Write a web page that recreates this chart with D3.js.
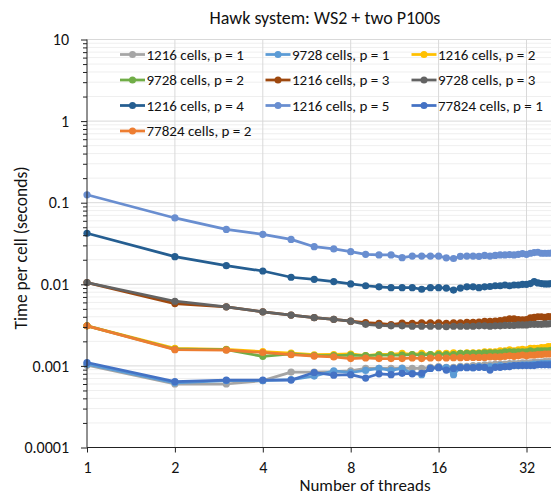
<!DOCTYPE html>
<html>
<head>
<meta charset="utf-8">
<script src="https://cdn.jsdelivr.net/npm/d3@7"></script>
<style>
  body { margin: 0; background: #fff; }
  text { font-family: Carlito, Lato, "Liberation Sans", sans-serif; fill: #111; }
</style>
</head>
<body>
<svg id="chart" width="551" height="496"></svg>
<script>
// Data: time per cell (s) against number of threads
var threads = [1, 2, 3, 4, 5, 6, 7, 8, 9, 10, 11, 12, 13, 14, 15, 16, 17, 18, 19, 20,
  21, 22, 23, 24, 25, 26, 27, 28, 29, 30, 31, 32, 33, 34, 35, 36, 37, 38, 39, 40];

var cells1216_p1 = [0.00102, 0.0006, 0.0006, 0.00066, 0.00084, 0.00084, 0.00085, 0.00087, 0.00093, 0.00093,
  0.00093, 0.00094, 0.00093, 0.00093, 0.00096, 0.00098, 0.00096, 0.00096, 0.00099, 0.00099,
  0.00101, 0.00101, 0.00103, 0.00103, 0.00105, 0.00105, 0.00105, 0.00107, 0.00107, 0.00107,
  0.00109, 0.00109, 0.00109, 0.00111, 0.00111, 0.00111, 0.00113, 0.00113, 0.00113, 0.00115];
var cells9728_p1 = [0.00105, 0.00062, 0.00066, 0.00066, 0.00068, 0.00075, 0.00087, 0.00083, 0.00088, 0.00093,
  0.00088, 0.00093, 0.00081, 0.00078, 0.00093, 0.00096, 0.00095, 0.00078, 0.00096, 0.00096,
  0.00095, 0.00098, 0.00096, 0.00098, 0.00098, 0.00101, 0.00098, 0.00101, 0.00101, 0.00101,
  0.00103, 0.00103, 0.00103, 0.00105, 0.00105, 0.00107, 0.00107, 0.00107, 0.00107, 0.00109];
var cells1216_p2 = [0.0031, 0.00164, 0.00159, 0.0015, 0.00143, 0.00137, 0.00138, 0.0014, 0.00134, 0.00138,
  0.00138, 0.00142, 0.00138, 0.00142, 0.00138, 0.00142, 0.00142, 0.00145, 0.00142, 0.00145,
  0.00145, 0.00145, 0.00149, 0.00149, 0.00149, 0.00153, 0.00153, 0.00157, 0.00153, 0.00157,
  0.00159, 0.00157, 0.00164, 0.00164, 0.00164, 0.00168, 0.00168, 0.00172, 0.00172, 0.00172];
var cells9728_p2 = [0.0031, 0.0016, 0.00158, 0.00131, 0.0014, 0.00134, 0.00134, 0.00136, 0.00134, 0.00136,
  0.00136, 0.00136, 0.00138, 0.00136, 0.00138, 0.00138, 0.00138, 0.00138, 0.00142, 0.00142,
  0.00142, 0.00142, 0.00145, 0.00145, 0.00145, 0.00145, 0.00149, 0.00149, 0.00149, 0.00149,
  0.00149, 0.00149, 0.00153, 0.00149, 0.00153, 0.00153, 0.00153, 0.00153, 0.00155, 0.00155];
var cells1216_p3 = [0.0105, 0.0058, 0.0053, 0.0046, 0.0042, 0.0039, 0.00372, 0.00353, 0.0034, 0.00333,
  0.0032, 0.00335, 0.00333, 0.00337, 0.00337, 0.00337, 0.00333, 0.00337, 0.00337, 0.00341,
  0.00341, 0.00344, 0.00352, 0.00352, 0.00354, 0.0036, 0.00367, 0.00377, 0.00377, 0.0037,
  0.00367, 0.0037, 0.00387, 0.00393, 0.004, 0.004, 0.00393, 0.00403, 0.004, 0.0041];
var cells9728_p3 = [0.0105, 0.0062, 0.0053, 0.0046, 0.0042, 0.0039, 0.00372, 0.00353, 0.00323, 0.00314,
  0.0031, 0.0031, 0.00306, 0.00306, 0.00306, 0.00306, 0.00302, 0.00306, 0.00306, 0.00306,
  0.00306, 0.0031, 0.0031, 0.00306, 0.0031, 0.0031, 0.00314, 0.00314, 0.00314, 0.00318,
  0.00318, 0.00318, 0.00323, 0.00323, 0.00323, 0.00323, 0.00327, 0.00327, 0.0033, 0.0033];
var cells1216_p4 = [0.0422, 0.0218, 0.0169, 0.01455, 0.0122, 0.0115, 0.0108, 0.0101, 0.0096, 0.0093,
  0.0091, 0.0091, 0.0091, 0.0087, 0.0091, 0.0091, 0.009, 0.0085, 0.009, 0.0093,
  0.0093, 0.0091, 0.0093, 0.0094, 0.0096, 0.0096, 0.0098, 0.0096, 0.0098, 0.0098,
  0.01, 0.01, 0.0102, 0.0108, 0.0104, 0.0102, 0.0101, 0.0101, 0.0102, 0.0101];
var cells1216_p5 = [0.125, 0.065, 0.047, 0.041, 0.0355, 0.0289, 0.0271, 0.0251, 0.0233, 0.0229,
  0.0229, 0.0212, 0.0222, 0.0222, 0.0222, 0.0222, 0.0211, 0.0207, 0.022, 0.0222,
  0.0222, 0.022, 0.0226, 0.0222, 0.0226, 0.0229, 0.0229, 0.0231, 0.0229, 0.0233,
  0.0237, 0.0233, 0.024, 0.0245, 0.0247, 0.024, 0.024, 0.024, 0.0241, 0.024];
var cells77824_p1 = [0.0011, 0.00064, 0.00067, 0.00067, 0.00067, 0.00083, 0.00077, 0.00078, 0.00071, 0.0008,
  0.00078, 0.00081, 0.0008, 0.00081, 0.00093, 0.00095, 0.00089, 0.00093, 0.00095, 0.00095,
  0.00095, 0.00096, 0.00096, 0.00089, 0.00096, 0.00096, 0.00098, 0.00098, 0.00101, 0.00101,
  0.00101, 0.00101, 0.00101, 0.00101, 0.00103, 0.00103, 0.00103, 0.00103, 0.00103, 0.00105];
var cells77824_p2 = [0.0031, 0.00158, 0.00156, 0.00146, 0.00137, 0.00132, 0.00129, 0.00123, 0.00125, 0.00123,
  0.00123, 0.00123, 0.00125, 0.00123, 0.00125, 0.00126, 0.00125, 0.00126, 0.00126, 0.00127,
  0.00127, 0.00127, 0.00127, 0.00129, 0.00129, 0.00129, 0.00131, 0.00133, 0.00131, 0.00133,
  0.00136, 0.00133, 0.00136, 0.00136, 0.00138, 0.00138, 0.0014, 0.0014, 0.0014, 0.00142];

var seriesNames = ["1216 cells, p = 1", "9728 cells, p = 1", "1216 cells, p = 2",
  "9728 cells, p = 2", "1216 cells, p = 3", "9728 cells, p = 3",
  "1216 cells, p = 4", "1216 cells, p = 5", "77824 cells, p = 1", "77824 cells, p = 2"];
var seriesValues = [cells1216_p1, cells9728_p1, cells1216_p2, cells9728_p2, cells1216_p3,
  cells9728_p3, cells1216_p4, cells1216_p5, cells77824_p1, cells77824_p2];
var seriesColors = ["#a5a5a5", "#5b9bd5", "#ffc000", "#70ad47", "#9e480e",
  "#636363", "#255e91", "#698ed0", "#4472c4", "#ed7d31"];

var xTicks = [1, 2, 4, 8, 16, 32];
var yMajor = [0.0001, 0.001, 0.01, 0.1, 1, 10];

var svg = d3.select("#chart");
var width = 551, height = 496;
var plot = {left: 87, top: 39.5, right: 614.4, bottom: 447.5};

// Scales (plot area runs past the right edge of the picture)
var x = d3.scaleLog().base(2).domain([1, 64]).range([plot.left, plot.right]);
var y = d3.scaleLog().domain([0.0001, 10]).range([plot.bottom, plot.top]);

function isMajor(d) {
  var l = Math.log10(d);
  return Math.abs(l - Math.round(l)) < 1e-9;
}

svg.append("rect").attr("width", width).attr("height", height).style("fill", "#fff");

// Gridlines
var grid = svg.append("g").classed("grid", true);
var yMinor = y.ticks().filter(function (d) { return !isMajor(d); });
grid.selectAll("line.minor")
  .data(yMinor)
  .enter().append("line")
  .classed("minor", true)
  .attr("x1", plot.left).attr("x2", width)
  .attr("y1", function (d) { return y(d); })
  .attr("y2", function (d) { return y(d); })
  .style("stroke", "#efefef").style("stroke-width", 1);
grid.selectAll("line.major")
  .data(yMajor.slice(1))
  .enter().append("line")
  .classed("major", true)
  .attr("x1", plot.left).attr("x2", width)
  .attr("y1", function (d) { return y(d); })
  .attr("y2", function (d) { return y(d); })
  .style("stroke", "#d9d9d9").style("stroke-width", 1);
grid.selectAll("line.vert")
  .data(xTicks.slice(1))
  .enter().append("line")
  .classed("vert", true)
  .attr("x1", function (d) { return x(d); })
  .attr("x2", function (d) { return x(d); })
  .attr("y1", plot.top).attr("y2", plot.bottom)
  .style("stroke", "#d9d9d9").style("stroke-width", 1);

// Legend (inside the plot, no background)
var legend = svg.append("g").classed("legend", true);
var legendCols = [120, 265.5, 411.5];
var legendRows = [54.5, 80, 105.5, 131];
seriesNames.forEach(function (name, i) {
  var lx = legendCols[i % 3], ly = legendRows[Math.floor(i / 3)];
  var g = legend.append("g").attr("transform", "translate(" + lx + "," + ly + ")");
  g.append("line").attr("x1", 0).attr("x2", 25).attr("y1", 0).attr("y2", 0)
    .style("stroke", seriesColors[i]).style("stroke-width", 2.75);
  g.append("circle").attr("cx", 12.5).attr("cy", 0).attr("r", 3.5).style("fill", seriesColors[i]);
  g.append("text").attr("x", 26.5).attr("y", 0).attr("dy", "0.36em")
    .style("font-size", "15px").text(name);
});

// Curves
svg.append("clipPath").attr("id", "clip")
  .append("rect").attr("x", plot.left - 6).attr("y", 0).attr("width", width - plot.left + 6).attr("height", plot.bottom + 6);

var curves = svg.append("g").attr("clip-path", "url(#clip)");
var line = d3.line()
  .x(function (d, i) { return x(threads[i]); })
  .y(function (d) { return y(d); });

seriesValues.forEach(function (vals, k) {
  var g = curves.append("g");
  g.append("path")
    .attr("d", line(vals))
    .style("fill", "none")
    .style("stroke", seriesColors[k])
    .style("stroke-width", 2.75)
    .style("stroke-linejoin", "round");
  g.selectAll("circle")
    .data(vals)
    .enter().append("circle")
    .attr("cx", function (d, i) { return x(threads[i]); })
    .attr("cy", function (d) { return y(d); })
    .attr("r", 3.6)
    .style("fill", seriesColors[k]);
});

// Axes
var yAxis = svg.append("g")
  .attr("id", "yaxis")
  .attr("transform", "translate(" + plot.left + ",0)")
  .call(d3.axisLeft(y).tickValues(y.ticks()).tickSize(6).tickPadding(12)
    .tickFormat(function (d) { return isMajor(d) ? String(d) : ""; }));
yAxis.selectAll(".tick line")
  .attr("x2", function (d) { return isMajor(d) ? -6 : -4; })
  .style("stroke", "#222");
yAxis.select(".domain").style("stroke", "#222").attr("d", "M0," + plot.bottom + "V" + plot.top);
yAxis.selectAll(".tick text").style("font-size", "16px").style("fill", "#111");
yAxis.attr("font-family", null).attr("font-size", null);

var xAxis = svg.append("g")
  .attr("id", "xaxis")
  .attr("transform", "translate(0," + plot.bottom + ")")
  .call(d3.axisBottom(x).tickValues(xTicks).tickSize(5).tickPadding(9)
    .tickFormat(d3.format("d")));
xAxis.select(".domain").style("stroke", "#222").attr("d", "M" + plot.left + ",0H" + width);
xAxis.selectAll(".tick line").style("stroke", "#222");
xAxis.selectAll(".tick text").style("font-size", "16px").style("fill", "#111");
xAxis.attr("font-family", null).attr("font-size", null);

// Titles
svg.append("text")
  .attr("x", 325).attr("y", 24)
  .attr("text-anchor", "middle")
  .style("font-size", "18px")
  .text("Hawk system: WS2 + two P100s");
svg.append("text")
  .attr("x", 365).attr("y", 491)
  .attr("text-anchor", "middle")
  .style("font-size", "17px")
  .text("Number of threads");
svg.append("text")
  .attr("transform", "translate(27,248) rotate(-90)")
  .attr("text-anchor", "middle")
  .style("font-size", "17.5px")
  .text("Time per cell (seconds)");
</script>
</body>
</html>
